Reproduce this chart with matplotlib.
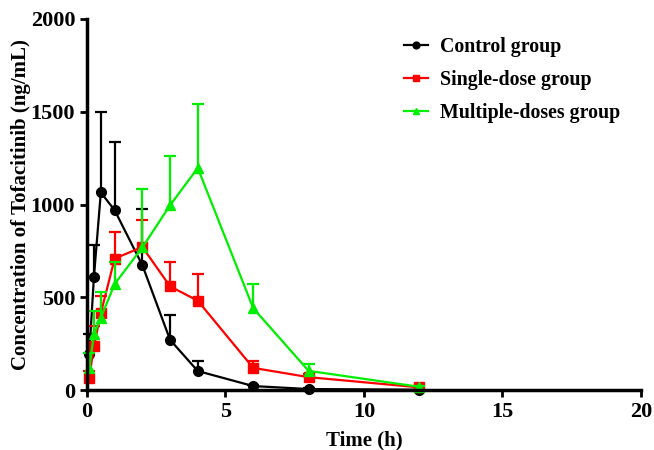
import matplotlib
matplotlib.use('Agg')
import matplotlib.pyplot as plt

# sampling times (h)
times = [0.083, 0.25, 0.5, 1, 2, 3, 4, 6, 8, 12]

# mean concentrations (ng/mL) and SD
control_mean = [195, 608, 1065, 969, 673, 271, 103, 22, 6, 2]
control_sd = [110, 173, 436, 366, 302, 135, 54, 8, 3, 1]

single_mean = [67, 238, 415, 709, 771, 559, 482, 120, 70, 15]
single_sd = [35, 105, 94, 143, 146, 132, 146, 39, 18, 5]

multi_mean = [120, 300, 390, 572, 769, 996, 1197, 442, 104, 18]
multi_sd = [80, 124, 137, 120, 314, 267, 346, 131, 37, 6]

plt.rcParams['font.family'] = ['Liberation Serif', 'DejaVu Serif']
plt.rcParams['font.weight'] = 'bold'

fig = plt.figure(figsize=(6.54, 4.5), dpi=100)
ax = fig.add_axes([0.133, 0.133, 0.847, 0.825])

series = [
    ('Control group', control_mean, control_sd, 'black', 'o', 7),
    ('Single-dose group', single_mean, single_sd, '#ff0000', 's', 6.5),
    ('Multiple-doses group', multi_mean, multi_sd, '#00ee00', '^', 6.5),
]

handles = []
for label, mean, sd, col, mk, ms in series:
    # only upper error bars, like the original figure
    eb = ax.errorbar(times, mean, yerr=[[0] * len(sd), sd], fmt='none',
                     ecolor=col, elinewidth=1.6, capsize=4, capthick=1.6,
                     clip_on=False)
    eb[1][0].set_visible(False)  # hide the lower caps
    ln, = ax.plot(times, mean, color=col, marker=mk, markersize=ms,
                  linewidth=1.6, label=label, clip_on=False)
    handles.append(ln)

ax.set_xlim(0, 20)
ax.set_ylim(0, 2000)
ax.set_xticks([0, 5, 10, 15, 20])
ax.set_yticks([0, 500, 1000, 1500, 2000])

ax.spines['top'].set_visible(False)
ax.spines['right'].set_visible(False)
ax.spines['left'].set_linewidth(2.5)
ax.spines['bottom'].set_linewidth(2.5)
ax.tick_params(width=2, length=5, labelsize=16)
for lab in ax.get_xticklabels() + ax.get_yticklabels():
    lab.set_fontweight('bold')

ax.set_xlabel('Time (h)', fontsize=15, fontweight='bold', labelpad=6)
ax.set_ylabel('Concentration of Tofacitinib (ng/mL)', fontsize=15,
              fontweight='bold', labelpad=0)

leg = ax.legend(handles=handles, loc='upper left', bbox_to_anchor=(0.54, 1.0),
                frameon=False, prop={'size': 14.3, 'weight': 'bold'},
                handlelength=1.2, handletextpad=0.6, markerscale=0.7,
                labelspacing=0.65)

fig.savefig('out.png', dpi=100)
